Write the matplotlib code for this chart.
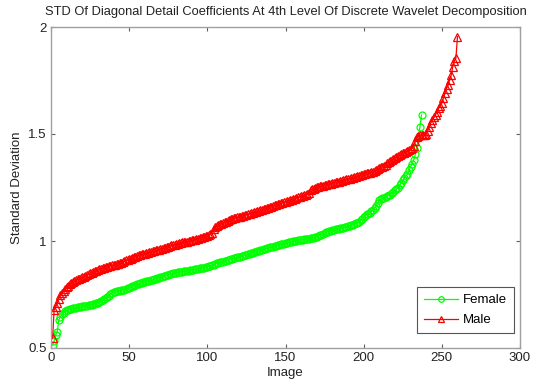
import matplotlib
matplotlib.use("Agg")
import matplotlib.pyplot as plt

plt.rcParams['font.family'] = ['Liberation Sans', 'DejaVu Sans']

title = "STD Of Diagonal Detail Coefficients At 4th Level Of Discrete Wavelet Decomposition"
xlabel = "Image"
ylabel = "Standard Deviation"
xticks = [0, 50, 100, 150, 200, 250, 300]
yticks = [0.5, 1, 1.5, 2]
ytick_labels = ["0.5", "1", "1.5", "2"]

female = [
    0.514, 0.533, 0.561, 0.576, 0.631, 0.646, 0.658, 0.665, 0.671, 0.676,
    0.679, 0.681, 0.683, 0.685, 0.687, 0.688, 0.690, 0.691, 0.692, 0.694,
    0.695, 0.697, 0.698, 0.700, 0.701, 0.703, 0.705, 0.707, 0.709, 0.712,
    0.715, 0.718, 0.722, 0.727, 0.732, 0.738, 0.745, 0.752, 0.758, 0.762,
    0.764, 0.765, 0.767, 0.768, 0.770, 0.771, 0.773, 0.776, 0.779, 0.782,
    0.785, 0.788, 0.791, 0.794, 0.797, 0.800, 0.802, 0.805, 0.807, 0.809,
    0.811, 0.813, 0.815, 0.817, 0.819, 0.822, 0.824, 0.826, 0.829, 0.831,
    0.833, 0.835, 0.837, 0.839, 0.842, 0.844, 0.846, 0.849, 0.851, 0.852,
    0.853, 0.855, 0.856, 0.857, 0.858, 0.860, 0.861, 0.862, 0.864, 0.865,
    0.866, 0.867, 0.869, 0.870, 0.872, 0.873, 0.875, 0.876, 0.878, 0.880,
    0.882, 0.884, 0.887, 0.890, 0.893, 0.896, 0.898, 0.900, 0.902, 0.904,
    0.906, 0.908, 0.910, 0.912, 0.915, 0.917, 0.919, 0.921, 0.923, 0.925,
    0.927, 0.929, 0.932, 0.934, 0.936, 0.938, 0.941, 0.943, 0.945, 0.948,
    0.950, 0.952, 0.954, 0.957, 0.959, 0.962, 0.964, 0.966, 0.968, 0.970,
    0.972, 0.974, 0.976, 0.978, 0.980, 0.982, 0.984, 0.986, 0.988, 0.990,
    0.992, 0.994, 0.996, 0.997, 0.999, 1.000, 1.002, 1.003, 1.005, 1.006,
    1.007, 1.008, 1.009, 1.010, 1.011, 1.012, 1.014, 1.016, 1.018, 1.020,
    1.023, 1.027, 1.030, 1.034, 1.037, 1.040, 1.043, 1.046, 1.048, 1.050,
    1.052, 1.054, 1.056, 1.058, 1.059, 1.061, 1.062, 1.064, 1.066, 1.068,
    1.070, 1.073, 1.076, 1.079, 1.082, 1.086, 1.090, 1.097, 1.105, 1.113,
    1.119, 1.124, 1.128, 1.132, 1.138, 1.146, 1.155, 1.165, 1.178, 1.190,
    1.196, 1.200, 1.203, 1.207, 1.210, 1.213, 1.216, 1.222, 1.230, 1.238,
    1.243, 1.248, 1.260, 1.272, 1.284, 1.295, 1.304, 1.312, 1.330, 1.347,
    1.362, 1.378, 1.405, 1.433, 1.480, 1.534, 1.589,
]

male = [
    0.545, 0.678, 0.690, 0.712, 0.730, 0.748, 0.758, 0.767, 0.776, 0.786,
    0.792, 0.798, 0.804, 0.810, 0.814, 0.818, 0.821, 0.824, 0.827, 0.830,
    0.833, 0.836, 0.840, 0.844, 0.849, 0.852, 0.855, 0.858, 0.861, 0.864,
    0.867, 0.870, 0.872, 0.875, 0.878, 0.880, 0.882, 0.884, 0.886, 0.888,
    0.890, 0.892, 0.894, 0.896, 0.899, 0.903, 0.906, 0.909, 0.912, 0.915,
    0.918, 0.921, 0.924, 0.927, 0.930, 0.933, 0.935, 0.937, 0.939, 0.941,
    0.943, 0.945, 0.947, 0.949, 0.951, 0.953, 0.956, 0.958, 0.960, 0.962,
    0.964, 0.966, 0.968, 0.970, 0.973, 0.976, 0.979, 0.981, 0.983, 0.985,
    0.987, 0.989, 0.991, 0.993, 0.994, 0.996, 0.997, 0.999, 1.001, 1.003,
    1.005, 1.007, 1.009, 1.011, 1.013, 1.016, 1.018, 1.020, 1.022, 1.024,
    1.027, 1.031, 1.038, 1.058, 1.067, 1.071, 1.075, 1.078, 1.081, 1.084,
    1.087, 1.090, 1.093, 1.097, 1.101, 1.104, 1.106, 1.108, 1.110, 1.112,
    1.114, 1.116, 1.118, 1.121, 1.123, 1.125, 1.128, 1.130, 1.132, 1.134,
    1.136, 1.138, 1.140, 1.143, 1.146, 1.149, 1.151, 1.153, 1.156, 1.158,
    1.161, 1.163, 1.166, 1.168, 1.171, 1.173, 1.176, 1.178, 1.181, 1.183,
    1.186, 1.188, 1.191, 1.193, 1.196, 1.198, 1.201, 1.204, 1.207, 1.209,
    1.212, 1.214, 1.217, 1.220, 1.225, 1.238, 1.242, 1.245, 1.248, 1.251,
    1.253, 1.255, 1.257, 1.259, 1.261, 1.263, 1.265, 1.267, 1.268, 1.270,
    1.272, 1.274, 1.276, 1.278, 1.280, 1.282, 1.284, 1.286, 1.288, 1.290,
    1.292, 1.294, 1.296, 1.298, 1.300, 1.302, 1.305, 1.307, 1.309, 1.312,
    1.314, 1.316, 1.318, 1.320, 1.322, 1.324, 1.327, 1.331, 1.335, 1.340,
    1.344, 1.348, 1.352, 1.356, 1.363, 1.368, 1.373, 1.378, 1.383, 1.388,
    1.393, 1.398, 1.402, 1.406, 1.410, 1.413, 1.416, 1.420, 1.425, 1.430,
    1.433, 1.445, 1.465, 1.487, 1.492, 1.493, 1.494, 1.495, 1.497, 1.499,
    1.515, 1.535, 1.552, 1.566, 1.578, 1.590, 1.605, 1.620, 1.632, 1.645,
    1.668, 1.690, 1.712, 1.730, 1.752, 1.776, 1.815, 1.840, 1.854, 1.955,
]

female_x = list(range(1, len(female) + 1))
male_x = list(range(1, len(male) + 1))

fig = plt.figure(figsize=(5.35, 3.87), dpi=100)
ax = fig.add_axes([51 / 535, 1 - 348 / 387, 469 / 535, 321 / 387])

ax.plot(female_x, female, color='#00ff00', lw=0.9, marker='o', ms=5,
        mfc='none', mec='#00ff00', mew=0.9, label='Female')
ax.plot(male_x, male, color='#ff0000', lw=0.9, marker='^', ms=5.5,
        mfc='none', mec='#ff0000', mew=0.9, label='Male')

ax.set_xlim(0, 300)
ax.set_ylim(0.5, 2)
ax.set_xticks(xticks)
ax.set_yticks(yticks)
ax.set_yticklabels(ytick_labels)

for s in ax.spines.values():
    s.set_color('#a0a0a0')
    s.set_linewidth(1.0)
ax.tick_params(direction='in', length=3, width=0.8, color='#606060',
               top=True, right=True, labelsize=9.5, labelcolor='#222222', pad=3)

ax.set_title(title, fontsize=9.3, color='#222222', pad=9)
ax.set_xlabel(xlabel, fontsize=9.5, color='#222222', labelpad=2)
ax.set_ylabel(ylabel, fontsize=9.5, color='#222222', labelpad=4)

leg = ax.legend(loc='lower right', bbox_to_anchor=(0.987, 0.047),
                borderaxespad=0, fancybox=False, fontsize=9.5,
                handlelength=2.6, framealpha=1, edgecolor='#555555',
                borderpad=0.5, labelspacing=0.6, handletextpad=0.4,
                markerscale=0.8)
leg.get_frame().set_linewidth(0.8)

fig.savefig('out.png', dpi=100)
